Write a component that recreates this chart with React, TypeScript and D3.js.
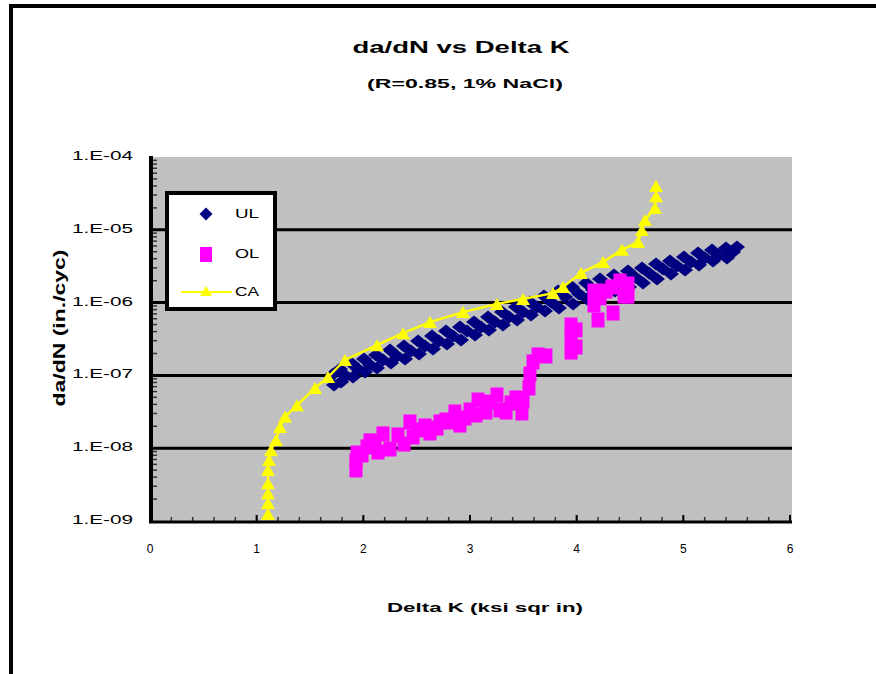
import React from "react";
import * as d3 from "d3";

const titleText = "da/dN vs Delta K";
const subtitleText = "(R=0.85, 1% NaCl)";
const xAxisTitle = "Delta K (ksi sqr in)";
const yAxisTitle = "da/dN (in./cyc)";

const xTickValues = [0, 1, 2, 3, 4, 5, 6];
const xTickLabels = ["0", "1", "2", "3", "4", "5", "6"];
const yTickValues = [1e-4, 1e-5, 1e-6, 1e-7, 1e-8, 1e-9];
const yTickLabels = ["1.E-04", "1.E-05", "1.E-06", "1.E-07", "1.E-08", "1.E-09"];
const gridValues = [1e-5, 1e-6, 1e-7, 1e-8];

const seriesNames = ["UL", "OL", "CA"];
const seriesColors = ["#000080", "#FF00FF", "#FFFF00"];

// UL (diamonds)
const ulX = [
  1.716, 1.725, 1.781, 1.791, 1.838, 1.894, 1.903, 1.95, 2.006, 2.016, 2.063, 2.119, 2.128, 2.184,
  2.25, 2.259, 2.316, 2.381, 2.391, 2.447, 2.513, 2.522, 2.578, 2.644, 2.653, 2.709, 2.775, 2.784,
  2.841, 2.906, 2.916, 2.972, 3.038, 3.047, 3.103, 3.169, 3.178, 3.234, 3.3, 3.309, 3.366, 3.431,
  3.441, 3.497, 3.563, 3.572, 3.628, 3.694, 3.703, 3.759, 3.825, 3.834, 3.891, 3.956, 3.966, 4.022,
  4.088, 4.097, 4.153, 4.219, 4.228, 4.284, 4.35, 4.359, 4.416, 4.481, 4.491, 4.547, 4.613, 4.622,
  4.678, 4.744, 4.753, 4.809, 4.875, 4.884, 4.941, 5.006, 5.016, 5.072, 5.138, 5.147, 5.203, 5.269,
  5.278, 5.334, 5.4, 5.409, 5.466, 5.503,
];
const ulY = [
  1.04e-7, 7.38e-8, 1.22e-7, 8.11e-8, 9.82e-8, 1.44e-7, 9.51e-8, 1.22e-7, 1.68e-7, 1.11e-7, 1.39e-7,
  1.91e-7, 1.26e-7, 1.63e-7, 2.23e-7, 1.48e-7, 1.85e-7, 2.54e-7, 1.68e-7, 2.16e-7, 2.97e-7, 1.97e-7,
  2.54e-7, 3.48e-7, 2.31e-7, 2.97e-7, 4.07e-7, 2.7e-7, 3.48e-7, 4.62e-7, 3.06e-7, 4.07e-7, 5.42e-7,
  3.59e-7, 4.62e-7, 6.34e-7, 4.21e-7, 5.42e-7, 7.43e-7, 4.92e-7, 6.34e-7, 8.71e-7, 5.77e-7, 7.43e-7,
  1.02e-6, 6.76e-7, 8.71e-7, 1.23e-6, 7.67e-7, 1.02e-6, 1.44e-6, 8.43e-7, 1.19e-6, 1.64e-6, 9.57e-7,
  1.31e-6, 1.86e-6, 1.12e-6, 1.49e-6, 2.11e-6, 1.27e-6, 1.69e-6, 2.39e-6, 1.44e-6, 1.92e-6, 2.72e-6,
  1.64e-6, 2.25e-6, 2.99e-6, 1.86e-6, 2.55e-6, 3.39e-6, 2.11e-6, 2.9e-6, 3.72e-6, 2.47e-6, 3.18e-6,
  4.23e-6, 2.81e-6, 3.61e-6, 4.8e-6, 3.28e-6, 4.1e-6, 5.28e-6, 3.72e-6, 4.51e-6, 5.62e-6, 4.1e-6,
  4.95e-6, 5.81e-6,
];

// OL (squares)
const olX = [
  1.931, 1.931, 1.941, 1.988, 2.034, 2.062, 2.109, 2.138, 2.184, 2.25, 2.325, 2.381, 2.437, 2.466,
  2.513, 2.578, 2.625, 2.691, 2.719, 2.775, 2.831, 2.859, 2.906, 2.953, 3.0, 3.056, 3.075, 3.15,
  3.169, 3.253, 3.281, 3.338, 3.384, 3.431, 3.487, 3.497, 3.553, 3.562, 3.591, 3.638, 3.712,
  3.947, 3.947, 3.947, 3.994, 3.994, 4.162, 4.162, 4.2, 4.219, 4.275, 4.331, 4.341, 4.406, 4.481,
  4.444, 4.481,
];
const olY = [
  5.02e-9, 6.67e-9, 8.59e-9, 8.07e-9, 1.04e-8, 1.26e-8, 1.18e-8, 8.87e-9, 1.57e-8, 9.75e-9, 1.52e-8,
  1.14e-8, 2.29e-8, 1.43e-8, 1.78e-8, 2.02e-8, 1.62e-8, 1.89e-8, 2.29e-8, 2.44e-8, 2.29e-8, 3.14e-8,
  2.08e-8, 2.6e-8, 3.35e-8, 2.86e-8, 4.59e-8, 3.14e-8, 4.31e-8, 5.38e-8, 3.35e-8, 3.14e-8, 4.18e-8,
  4.9e-8, 3.05e-8, 4.45e-8, 6.71e-8, 1.04e-7, 1.53e-7, 1.91e-7, 1.85e-7, 2.09e-7, 3.27e-7, 4.92e-7,
  2.45e-7, 4.21e-7, 1.44e-6, 9.27e-7, 5.77e-7, 1.16e-6, 1.44e-6, 1.64e-6, 7.19e-7, 1.98e-6, 1.8e-6,
  1.23e-6, 1.23e-6,
];

// CA (line + triangles)
const caX = [
  1.106, 1.106, 1.106, 1.106, 1.106, 1.116, 1.134, 1.181, 1.219, 1.266, 1.378, 1.547, 1.669, 1.828,
  2.128, 2.372, 2.625, 2.934, 3.253, 3.497, 3.778, 3.872, 4.041, 4.247, 4.425, 4.575, 4.612, 4.641,
  4.734, 4.744, 4.744,
];
const caY = [
  1.25e-9, 1.77e-9, 2.4e-9, 3.3e-9, 5.0e-9, 6.9e-9, 9.4e-9, 1.3e-8, 1.95e-8, 2.7e-8, 3.9e-8, 6.7e-8,
  9.5e-8, 1.63e-7, 2.6e-7, 3.8e-7, 5.4e-7, 7.4e-7, 9.6e-7, 1.12e-6, 1.35e-6, 1.64e-6, 2.55e-6,
  3.6e-6, 5.3e-6, 6.8e-6, 9.9e-6, 1.36e-5, 1.99e-5, 2.9e-5, 4.0e-5,
];

const FONT = "'Liberation Sans', Arial, sans-serif";

function diamond(cx: number, cy: number, w: number, h: number) {
  return `M${cx},${cy - h / 2}L${cx + w / 2},${cy}L${cx},${cy + h / 2}L${cx - w / 2},${cy}Z`;
}
function triangle(cx: number, cy: number, w: number, h: number) {
  return `M${cx},${cy - h / 2}L${cx + w / 2},${cy + h / 2}L${cx - w / 2},${cy + h / 2}Z`;
}

export default function App() {
  const W = 876;
  const H = 674;
  const plotL = 150;
  const plotR = 792;
  const plotT = 157;
  const plotB = 521;
  const x = d3.scaleLinear().domain([0, 6]).range([150, 790]);
  const y = d3.scaleLog().domain([1e-9, 1e-4]).range([plotB, plotT]);

  const minorX: number[] = [];
  for (let i = 0; i <= 30; i++) minorX.push(i * 0.2);
  const minorY: number[] = [];
  for (let e = -9; e < -4; e++) for (let m = 2; m <= 9; m++) minorY.push(m * Math.pow(10, e));

  const ul = ulX.map((v, i) => [x(v), y(ulY[i])]);
  const ol = olX.map((v, i) => [x(v), y(olY[i])]);
  const ca = caX.map((v, i) => [x(v), y(caY[i])]);
  const caLine = d3.line<number[]>().x((d) => d[0]).y((d) => d[1])(ca) || "";

  return (
    <svg
      width={W}
      height={H}
      style={{ position: "absolute", left: 0, top: 0, display: "block", background: "#fff" }}
    >
      <rect x={0} y={0} width={W} height={H} fill="#fff" />
      {/* outer frame */}
      <line x1={11} y1={4} x2={11} y2={H} stroke="#000" strokeWidth={4} />
      <line x1={9} y1={6} x2={W} y2={6} stroke="#000" strokeWidth={4} />

      {/* titles */}
      <text x={461} y={53} textAnchor="middle" fontFamily={FONT} fontWeight="bold" fontSize={16}
        textLength={217} lengthAdjust="spacingAndGlyphs">{titleText}</text>
      <text x={465} y={88} textAnchor="middle" fontFamily={FONT} fontWeight="bold" fontSize={12}
        textLength={196} lengthAdjust="spacingAndGlyphs">{subtitleText}</text>

      {/* plot background */}
      <rect x={plotL} y={plotT} width={plotR - plotL} height={plotB - plotT} fill="#C0C0C0" />

      {/* grid */}
      {gridValues.map((g) => (
        <line key={g} x1={plotL} x2={plotR} y1={y(g)} y2={y(g)} stroke="#000" strokeWidth={3} />
      ))}

      {/* minor ticks */}
      {minorY.map((v, i) => (
        <line key={"my" + i} x1={153} x2={157} y1={y(v)} y2={y(v)} stroke="#333" strokeWidth={1.5} />
      ))}
      {minorX.map((v, i) => (
        <line key={"mx" + i} x1={x(v)} x2={x(v)} y1={plotB - 4} y2={plotB} stroke="#333" strokeWidth={1.5} />
      ))}
      {xTickValues.map((v) => (
        <line key={"Mx" + v} x1={x(v)} x2={x(v)} y1={plotB - 6} y2={plotB} stroke="#000" strokeWidth={2} />
      ))}

      {/* series */}
      <g>
        {ul.map((p, i) => (
          <path key={"ul" + i} d={diamond(p[0], p[1], 16, 13)} fill={seriesColors[0]} />
        ))}
      </g>
      <g>
        {ol.map((p, i) => (
          <rect key={"ol" + i} x={p[0] - 6.5} y={p[1] - 7.5} width={13} height={15} fill={seriesColors[1]} />
        ))}
      </g>
      <g>
        <path d={caLine} fill="none" stroke={seriesColors[2]} strokeWidth={2.5} />
        {ca.map((p, i) => (
          <path key={"ca" + i} d={triangle(p[0], p[1], 14, 12)} fill={seriesColors[2]} />
        ))}
      </g>

      {/* axes lines */}
      <line x1={151} x2={151} y1={plotT - 1} y2={plotB + 2} stroke="#000" strokeWidth={4} />
      <line x1={149} x2={plotR} y1={plotB + 1} y2={plotB + 1} stroke="#000" strokeWidth={3} />

      {/* y tick labels */}
      {yTickValues.map((v, i) => (
        <text key={"yt" + i} x={133} y={y(v) + 3} textAnchor="end" fontFamily={FONT} fontSize={12}
          textLength={61} lengthAdjust="spacingAndGlyphs">{yTickLabels[i]}</text>
      ))}
      {/* x tick labels */}
      {xTickValues.map((v, i) => (
        <text key={"xt" + i} x={x(v)} y={553} textAnchor="middle" fontFamily={FONT} fontSize={12}>
          {xTickLabels[i]}
        </text>
      ))}

      {/* axis titles */}
      <text x={485} y={612} textAnchor="middle" fontFamily={FONT} fontWeight="bold" fontSize={12}
        textLength={196} lengthAdjust="spacingAndGlyphs">{xAxisTitle}</text>
      <g transform="translate(65,328) scale(1.4,1) rotate(-90)">
        <text x={0} y={0} textAnchor="middle" fontFamily={FONT} fontWeight="bold" fontSize={12}
          textLength={157} lengthAdjust="spacingAndGlyphs">{yAxisTitle}</text>
      </g>

      {/* legend */}
      <rect x={167} y={193} width={108} height={116} fill="#fff" stroke="#000" strokeWidth={4} />
      <path d={diamond(206, 214, 13, 13)} fill={seriesColors[0]} />
      <rect x={200} y={247} width={12} height={15} fill={seriesColors[1]} />
      <line x1={181} x2={232} y1={292} y2={292} stroke={seriesColors[2]} strokeWidth={2} />
      <path d={triangle(206, 291, 12, 10)} fill={seriesColors[2]} />
      {seriesNames.map((n, i) => (
        <text key={n} x={235} y={[218, 258, 296][i]} fontFamily={FONT} fontSize={12}
          textLength={24} lengthAdjust="spacingAndGlyphs">{n}</text>
      ))}
    </svg>
  );
}
